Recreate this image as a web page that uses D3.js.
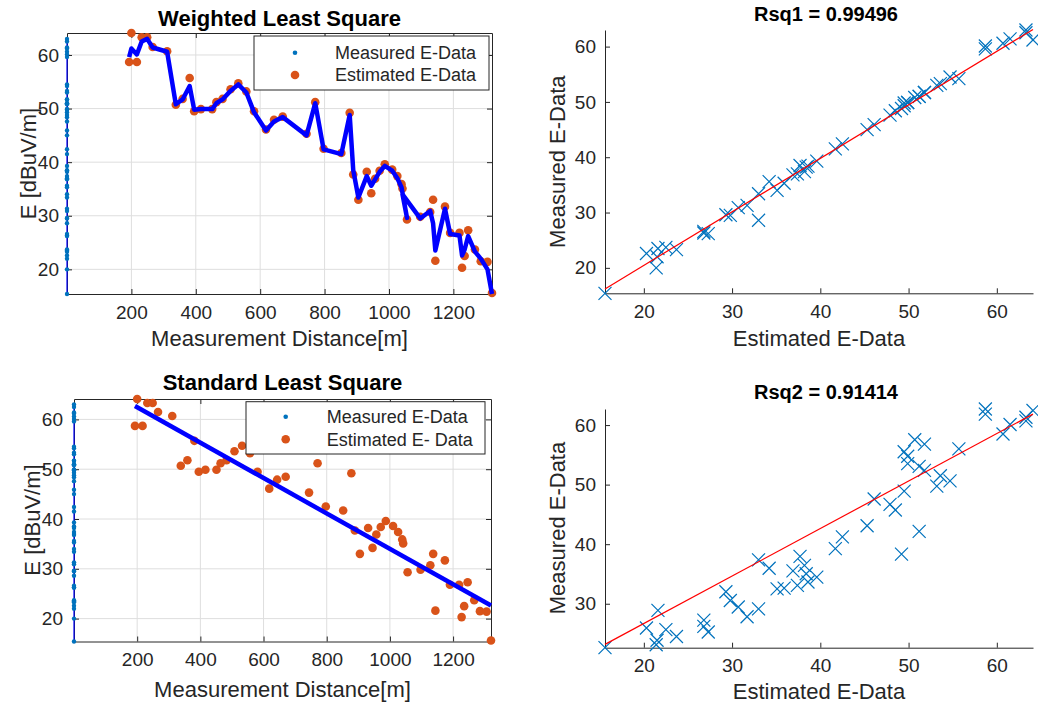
<!DOCTYPE html>
<html><head><meta charset="utf-8">
<script src="https://cdn.jsdelivr.net/npm/d3@7"></script>
<style>
body{margin:0;background:#fff}
svg{display:block}
text{font-family:'Liberation Sans',Arial,Helvetica,sans-serif;fill:#262626}
</style>
</head><body>
<svg id="chart" width="1038" height="707"></svg>
<script>
// ---------- data ----------
const distance = [193,200,217,232,249,266,311,338,359,381,395,416,451,464,483,508,532,557,581,618,643,670,744,771,797,852,878,889,905,931,945,957,971,987,1010,1026,1039,1056,1042,1097,1128,1137,1144,1174,1190,1219,1227,1235,1246,1267,1285,1306,1320];
const estimated = [58.7,64.1,58.7,63.3,63.3,61.5,60.7,50.7,51.8,55.7,49.5,49.9,49.9,51.2,51.8,53.6,54.7,53.2,49.5,46.1,47.9,48.5,45.3,51.2,42.5,41.7,49.2,37.7,33.0,38.2,34.2,36.9,38.4,39.6,38.6,37.4,35.9,29.3,35.1,29.8,30.7,33.0,21.6,31.7,26.8,26.8,20.3,22.5,27.3,23.7,21.5,21.4,15.6];
const weighted = [59.6,61.2,60.1,62.5,63.0,61.4,60.6,50.8,51.7,54.2,49.8,49.9,49.9,51.0,51.7,53.3,54.5,53.0,49.3,45.9,47.6,48.4,45.0,51.0,42.4,41.5,48.8,38.5,33.4,37.4,35.6,36.8,38.2,39.3,38.4,37.0,35.3,29.6,34.0,29.5,30.9,28.6,23.5,31.3,26.6,26.3,22.6,23.7,26.2,23.3,22.0,20.0,15.4];
// standard least-square line
const stdIntercept = 69.56, stdSlope = -0.03556;
// red regression lines of the Rsq plots
const fit1 = {intercept: 1.11, slope: 0.967};
const fit2 = {intercept: 10.75, slope: 0.797};
const distTicks = [200,400,600,800,1000,1200];
const eTicks = [20,30,40,50,60];
const eTicks2 = [30,40,50,60];
const titles = ["Weighted Least Square","Standard Least Square","Rsq1 = 0.99496","Rsq2 = 0.91414"];
const legendLabels1 = ["Measured E-Data","Estimated E-Data"];
const legendLabels2 = ["Measured E-Data","Estimated E- Data"];

// ---------- drawing ----------
const svg = d3.select('#chart');
const AX='#262626', GRID='#dedede', ORANGE='#D95319', LBLUE='#0072BD', BLUE='#0000FF', RED='#FF0000';
const TICKFS=19, LABFS=22;
const fmt = d3.format('d');

const standard = distance.map(d => stdIntercept + stdSlope*d);

function drawAxes(g, x, y, xt, yt, o) {
  const [x0,x1] = x.range(), [y1,y0] = y.range();
  if (o.grid) {
    g.append('g').selectAll('line').data(xt).join('line')
      .attr('x1', d=>x(d)).attr('x2', d=>x(d)).attr('y1', y0).attr('y2', y1)
      .attr('stroke', GRID).attr('stroke-width',1);
    g.append('g').selectAll('line').data(yt).join('line')
      .attr('y1', d=>y(d)).attr('y2', d=>y(d)).attr('x1', x0).attr('x2', x1)
      .attr('stroke', GRID).attr('stroke-width',1);
  }
  const ax = g.append('g').attr('transform',`translate(0,${y1})`)
    .call(d3.axisBottom(x).tickValues(xt).tickFormat(fmt).tickSizeInner(-5).tickSizeOuter(0).tickPadding(o.xpad));
  const ay = g.append('g').attr('transform',`translate(${x0},0)`)
    .call(d3.axisLeft(y).tickValues(yt).tickFormat(fmt).tickSizeInner(-5).tickSizeOuter(0).tickPadding(o.ypad));
  [ax, ay].forEach(a => {
    a.select('.domain').attr('stroke', AX).attr('stroke-width',1);
    a.selectAll('.tick line').attr('stroke', AX);
    a.selectAll('.tick text').attr('fill', AX).style('font-size', TICKFS+'px')
      .style('font-family',"'Liberation Sans',Arial,sans-serif");
  });
  if (o.box) {
    const at = g.append('g').attr('transform',`translate(0,${y0})`)
      .call(d3.axisTop(x).tickValues(xt).tickSizeInner(-5).tickSizeOuter(0).tickFormat(''));
    const ar = g.append('g').attr('transform',`translate(${x1},0)`)
      .call(d3.axisRight(y).tickValues(yt).tickSizeInner(-5).tickSizeOuter(0).tickFormat(''));
    [at, ar].forEach(a => {
      a.select('.domain').attr('stroke', AX);
      a.selectAll('.tick line').attr('stroke', AX);
    });
  }
}

function labels(g, cx, o) {
  g.append('text').attr('x', o.tx || cx).attr('y', o.ty).attr('text-anchor','middle')
    .style('font-size', o.tfs+'px').style('font-weight','bold').style('fill','#000').text(o.title);
  g.append('text').attr('x', cx).attr('y', o.xy).attr('text-anchor','middle')
    .style('font-size', LABFS+'px').text(o.xlabel);
  g.append('text').attr('transform',`translate(${o.yx},${o.yy}) rotate(-90)`)
    .attr('text-anchor','middle').attr('dy','0.35em')
    .style('font-size', LABFS+'px').text(o.ylabel);
}

function legend(g, o, labs) {
  g.append('rect').attr('x',o.x).attr('y',o.y).attr('width',o.w).attr('height',o.h)
    .attr('fill','#fff').attr('stroke',AX).attr('stroke-width',1);
  g.append('circle').attr('cx',o.mx).attr('cy',o.r1).attr('r',2.3).attr('fill',LBLUE);
  g.append('circle').attr('cx',o.mx).attr('cy',o.r2).attr('r',4.3).attr('fill',ORANGE);
  [o.r1,o.r2].forEach((ry,i) => g.append('text').attr('x',o.tx).attr('y',ry).attr('dy','0.35em')
    .style('font-size','18px').text(labs[i]));
}

const eDomain = d3.extent(estimated.concat(weighted));

// ---- top-left: weighted ----
{
  const g = svg.append('g');
  const x = d3.scaleLinear().domain([0, d3.max(distance)]).range([67,492]);
  const y = d3.scaleLinear().domain(eDomain).range([294,33]);
  drawAxes(g, x, y, distTicks, eTicks, {grid:true, box:true, xpad:12, ypad:8});
  g.append('line').attr('x1',x(0)).attr('x2',x(0)).attr('y1',y(d3.min(weighted))).attr('y2',y(d3.max(weighted)))
    .attr('stroke',BLUE).attr('stroke-width',1.2);
  g.append('g').selectAll('circle').data(weighted).join('circle')
    .attr('cx',x(0)).attr('cy',d=>y(d)).attr('r',2.2).attr('fill',LBLUE);
  g.append('g').selectAll('circle').data(estimated).join('circle')
    .attr('cx',(d,i)=>x(distance[i])).attr('cy',d=>y(d)).attr('r',4.3).attr('fill',ORANGE);
  g.append('path').datum(distance.map((d,i)=>[d,weighted[i]]))
    .attr('d', d3.line().x(d=>x(d[0])).y(d=>y(d[1])))
    .attr('fill','none').attr('stroke',BLUE).attr('stroke-width',4.5).attr('stroke-linejoin','round');
  labels(g, 279.5, {ty:26, tfs:22, title:titles[0], xy:346, xlabel:'Measurement Distance[m]', yx:28, yy:163.5, ylabel:'E [dBuV/m]'});
  legend(g, {x:254,y:36,w:235,h:54,mx:295,tx:335,r1:52.7,r2:75}, legendLabels1);
}

// ---- bottom-left: standard ----
{
  const g = svg.append('g');
  const x = d3.scaleLinear().domain([0, d3.max(distance)]).range([74,491]);
  const y = d3.scaleLinear().domain(eDomain).range([641.5,399]);
  drawAxes(g, x, y, distTicks, eTicks, {grid:true, box:true, xpad:11, ypad:11});
  g.append('line').attr('x1',x(0)).attr('x2',x(0)).attr('y1',y(d3.min(weighted))).attr('y2',y(d3.max(weighted)))
    .attr('stroke',BLUE).attr('stroke-width',1.2);
  g.append('g').selectAll('circle').data(weighted).join('circle')
    .attr('cx',x(0)).attr('cy',d=>y(d)).attr('r',2.2).attr('fill',LBLUE);
  g.append('g').selectAll('circle').data(estimated).join('circle')
    .attr('cx',(d,i)=>x(distance[i])).attr('cy',d=>y(d)).attr('r',4.3).attr('fill',ORANGE);
  const dExt = d3.extent(distance);
  g.append('path').datum(dExt.map(d=>[d, stdIntercept + stdSlope*d]))
    .attr('d', d3.line().x(d=>x(d[0])).y(d=>y(d[1])))
    .attr('fill','none').attr('stroke',BLUE).attr('stroke-width',4.5);
  labels(g, 282.5, {ty:390, tfs:22, title:titles[1], xy:697, xlabel:'Measurement Distance[m]', yx:32, yy:520, ylabel:'E [dBuV/m]'});
  legend(g, {x:246,y:401.7,w:239,h:52.3,mx:285.7,tx:326.7,r1:416.7,r2:439.3}, legendLabels2);
}

function xmark(g, pts, x, y) {
  g.append('g').selectAll('path').data(pts).join('path')
    .attr('transform', d=>`translate(${x(d[0])},${y(d[1])})`)
    .attr('d','M-6.5,-6.5L6.5,6.5M-6.5,6.5L6.5,-6.5')
    .attr('stroke',LBLUE).attr('stroke-width',1.2).attr('fill','none');
}

// ---- top-right: Rsq1 ----
{
  const g = svg.append('g');
  const x = d3.scaleLinear().domain(d3.extent(estimated)).range([605,1033]);
  const y = d3.scaleLinear().domain(d3.extent(weighted)).range([293.3,30]);
  drawAxes(g, x, y, eTicks, eTicks, {grid:false, box:false, xpad:11, ypad:9});
  xmark(g, estimated.map((d,i)=>[d,weighted[i]]), x, y);
  const xe = d3.extent(estimated);
  g.append('path').datum(xe.map(v=>[v, fit1.intercept + fit1.slope*v]))
    .attr('d', d3.line().x(d=>x(d[0])).y(d=>y(d[1])))
    .attr('stroke',RED).attr('stroke-width',1.2).attr('fill','none');
  labels(g, 819, {tx:826, ty:21, tfs:20, title:titles[2], xy:346, xlabel:'Estimated E-Data', yx:557, yy:161.7, ylabel:'Measured E-Data'});
}

// ---- bottom-right: Rsq2 ----
{
  const g = svg.append('g');
  const x = d3.scaleLinear().domain(d3.extent(estimated)).range([605,1033]);
  const y = d3.scaleLinear().domain(d3.extent(standard)).range([647.7,409]);
  drawAxes(g, x, y, eTicks, eTicks2, {grid:false, box:false, xpad:11, ypad:9});
  xmark(g, estimated.map((d,i)=>[d,standard[i]]), x, y);
  const xe = d3.extent(estimated);
  g.append('path').datum(xe.map(v=>[v, fit2.intercept + fit2.slope*v]))
    .attr('d', d3.line().x(d=>x(d[0])).y(d=>y(d[1])))
    .attr('stroke',RED).attr('stroke-width',1.2).attr('fill','none');
  labels(g, 819, {tx:826, ty:399, tfs:20, title:titles[3], xy:699, xlabel:'Estimated E-Data', yx:557, yy:528, ylabel:'Measured E-Data'});
}
</script>
</body></html>
